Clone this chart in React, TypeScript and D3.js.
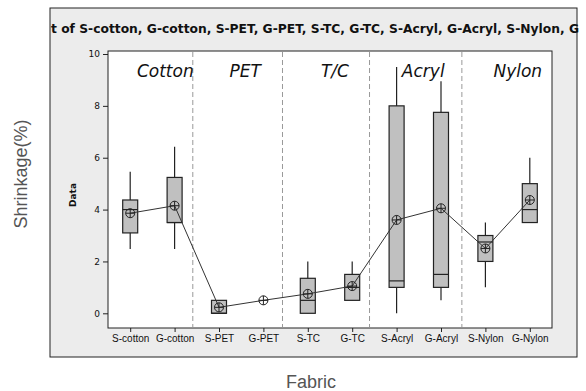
import * as d3 from "d3";
import { useEffect, useRef } from "react";

// fabrics along the x axis
const categories = ["S-cotton", "G-cotton", "S-PET", "G-PET", "S-TC", "G-TC", "S-Acryl", "G-Acryl", "S-Nylon", "G-Nylon"];
// box statistics
const whiskerLow = [2.48, 2.48, 0, 0.5, 0, 0.5, 0, 0.5, 1.0, 3.5];
const q1 = [3.1, 3.5, 0, 0.5, 0, 0.5, 1.0, 1.0, 2.0, 3.5];
const median = [4.0, 3.5, 0, 0.5, 0.5, 1.0, 1.25, 1.5, 2.75, 4.0];
const q3 = [4.37, 5.24, 0.5, 0.5, 1.35, 1.5, 8.0, 7.75, 3.0, 5.0];
const whiskerHigh = [5.46, 6.42, 0.5, 0.5, 2.0, 2.0, 9.5, 8.95, 3.5, 6.0];
const means = [3.86, 4.15, 0.23, 0.5, 0.75, 1.05, 3.6, 4.05, 2.5, 4.37];

const yTicks = [0, 2, 4, 6, 8, 10];
const groups = ["Cotton", "PET", "T/C", "Acryl", "Nylon"];
const groupPos = [0.79, 2.59, 4.61, 6.6, 8.73];
const dividers = [1.41, 3.43, 5.39, 7.47];

const title = "t of S-cotton, G-cotton, S-PET, G-PET, S-TC, G-TC, S-Acryl, G-Acryl, S-Nylon, G";

const W = 586, H = 391;
const plot = { x1: 108, x2: 552, y1: 51, y2: 328 };

const draw = (node: SVGSVGElement) => {
    const svg = d3.select(node);
    svg.selectAll("*").remove();

    const x = d3.scaleLinear().domain([-0.5, categories.length - 0.5]).range([plot.x1, plot.x2]);
    const y = d3.scaleLinear().domain([0, 10]).range([313.3, 54]);

    svg.append("rect").attr("width", W).attr("height", H).attr("fill", "white");

    // gray panel
    svg.append("rect")
        .attr("x", 50).attr("y", 8).attr("width", 527).attr("height", 349)
        .attr("fill", "#ececec").attr("stroke", "#222").attr("stroke-width", 1);

    svg.append("text")
        .attr("x", 51).attr("y", 33)
        .attr("textLength", 528).attr("lengthAdjust", "spacingAndGlyphs")
        .style("font-family", "'DejaVu Sans', sans-serif")
        .style("font-size", "13px").style("font-weight", "bold")
        .attr("fill", "#111")
        .text(title);

    // plot area
    svg.append("rect")
        .attr("x", plot.x1).attr("y", plot.y1)
        .attr("width", plot.x2 - plot.x1).attr("height", plot.y2 - plot.y1)
        .attr("fill", "white").attr("stroke", "#222");

    // y axis
    const yAxis = d3.axisLeft(y).tickValues(yTicks).tickSize(5).tickPadding(3);
    const yg = svg.append("g").attr("transform", `translate(${plot.x1},0)`).call(yAxis);
    yg.select(".domain").remove();
    yg.selectAll("line").attr("stroke", "#222");
    yg.selectAll("text").style("font-family", "'DejaVu Sans', sans-serif").style("font-size", "9px").attr("fill", "#111");

    // x axis
    const xAxis = d3.axisBottom(x).tickValues(d3.range(categories.length)).tickFormat((d) => categories[d as number]).tickSize(4).tickPadding(3);
    const xg = svg.append("g").attr("transform", `translate(0,${plot.y2})`).call(xAxis);
    xg.select(".domain").remove();
    xg.selectAll("line").attr("stroke", "#222");
    xg.selectAll("text").style("font-family", "'Liberation Sans', Arial, sans-serif").style("font-size", "10px").attr("fill", "#111");

    // dividers
    svg.append("g").selectAll("line").data(dividers).join("line")
        .attr("x1", (d) => x(d)).attr("x2", (d) => x(d))
        .attr("y1", plot.y1 + 1).attr("y2", plot.y2 - 1)
        .attr("stroke", "#999").attr("stroke-dasharray", "5,3");

    // group labels
    svg.append("g").selectAll("text").data(groups).join("text")
        .attr("x", (d, i) => x(groupPos[i])).attr("y", 77)
        .attr("text-anchor", "middle")
        .style("font-family", "'DejaVu Sans', sans-serif").style("font-size", "17px").style("font-style", "italic")
        .attr("fill", "#111")
        .text((d) => d);

    // boxes (bound to category index)
    const bw = 15;
    const idx = d3.range(categories.length);
    const boxes = svg.append("g").selectAll("g").data(idx).join("g");
    boxes.filter((i) => whiskerHigh[i] > whiskerLow[i]).append("line")
        .attr("x1", (i) => x(i)).attr("x2", (i) => x(i))
        .attr("y1", (i) => y(whiskerLow[i])).attr("y2", (i) => y(whiskerHigh[i]))
        .attr("stroke", "#222").attr("stroke-width", 1.2);
    const withBox = boxes.filter((i) => q3[i] > q1[i]);
    withBox.append("rect")
        .attr("x", (i) => x(i) - bw / 2)
        .attr("y", (i) => y(q3[i]))
        .attr("width", bw)
        .attr("height", (i) => y(q1[i]) - y(q3[i]))
        .attr("fill", "#c0c0c0").attr("stroke", "#222").attr("stroke-width", 1.2);
    withBox.append("line")
        .attr("x1", (i) => x(i) - bw / 2).attr("x2", (i) => x(i) + bw / 2)
        .attr("y1", (i) => y(median[i])).attr("y2", (i) => y(median[i]))
        .attr("stroke", "#222").attr("stroke-width", 1.2);

    // mean connect line
    const line = d3.line<number>().x((d, i) => x(i)).y((d) => y(d));
    svg.append("path").attr("d", line(means)).attr("fill", "none").attr("stroke", "#333").attr("stroke-width", 1);

    // mean symbols
    const ms = svg.append("g").selectAll("g").data(means).join("g")
        .attr("transform", (d, i) => `translate(${x(i)},${y(d)})`);
    ms.append("circle").attr("r", 4.5).attr("fill", "none").attr("stroke", "#222").attr("stroke-width", 1);
    ms.append("line").attr("x1", -4.5).attr("x2", 4.5).attr("stroke", "#222");
    ms.append("line").attr("y1", -4.5).attr("y2", 4.5).attr("stroke", "#222");

    svg.append("text")
        .attr("transform", "translate(76,195) rotate(-90)")
        .attr("text-anchor", "middle")
        .style("font-family", "'DejaVu Sans', sans-serif").style("font-size", "9px").style("font-weight", "bold")
        .attr("fill", "#111")
        .text("Data");

    svg.append("text")
        .attr("transform", "translate(27,174) rotate(-90)")
        .attr("text-anchor", "middle")
        .style("font-family", "'Liberation Sans', Arial, sans-serif").style("font-size", "18px")
        .attr("fill", "#555")
        .text("Shrinkage(%)");

    svg.append("text")
        .attr("x", 311).attr("y", 388)
        .attr("text-anchor", "middle")
        .style("font-family", "'Liberation Sans', Arial, sans-serif").style("font-size", "18px")
        .attr("fill", "#555")
        .text("Fabric");
};

export default function App() {
    const ref = useRef<SVGSVGElement>(null);
    useEffect(() => {
        if (ref.current) draw(ref.current);
    }, []);
    return (
        <svg ref={ref} width={W} height={H} style={{ position: "absolute", left: 0, top: 0, display: "block" }} />
    );
}
